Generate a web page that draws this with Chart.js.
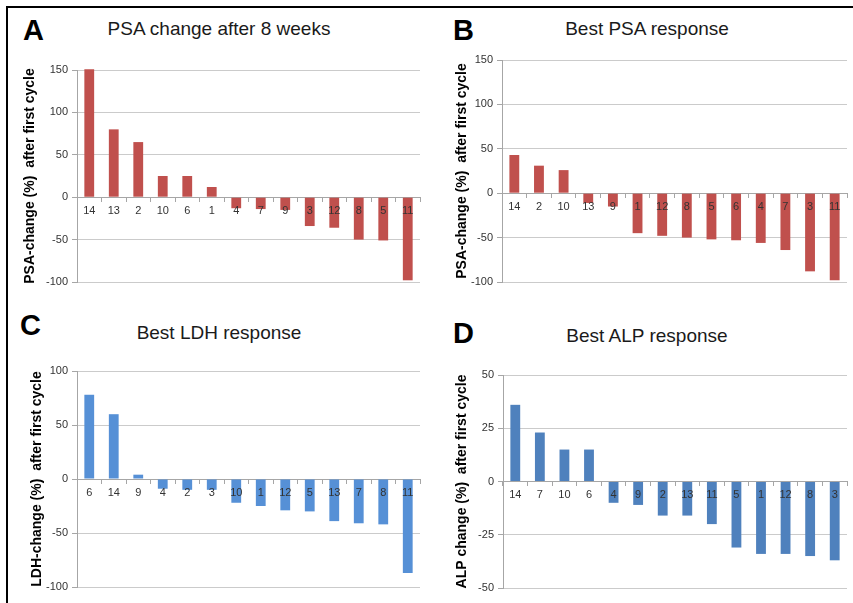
<!DOCTYPE html>
<html>
<head>
<meta charset="utf-8">
<script src="https://cdn.jsdelivr.net/npm/chart.js@4.4.0/dist/chart.umd.min.js"></script>
<style>
body { margin: 0; background: #fff; }
#fig { position: relative; width: 853px; height: 603px; overflow: hidden; font-family: "Liberation Sans", Arial, sans-serif; }
#frame { position: absolute; left: 6px; top: 6px; width: 900px; height: 700px; border-top: 2px solid #000; border-left: 2px solid #000; }
.letter { position: absolute; font-weight: bold; font-size: 29px; line-height: 29px; color: #000; }
.title { position: absolute; font-size: 19px; line-height: 19px; color: #1a1a1a; transform: translateX(-50%); white-space: nowrap; }
canvas { position: absolute; }
</style>
</head>
<body>
<div id="fig">
  <div id="frame"></div>
  <div class="letter" style="left:23px; top:16px;">A</div>
  <div class="letter" style="left:453px; top:16px;">B</div>
  <div class="letter" style="left:20px; top:311px;">C</div>
  <div class="letter" style="left:453px; top:319px;">D</div>
  <div class="title" style="left:219px; top:19px;">PSA change after 8 weeks</div>
  <div class="title" style="left:647px; top:19px;">Best PSA response</div>
  <div class="title" style="left:219px; top:323px;">Best LDH response</div>
  <div class="title" style="left:647px; top:326px;">Best ALP response</div>
  <canvas id="chartA" width="426" height="300" style="left:0; top:0;"></canvas>
  <canvas id="chartB" width="427" height="300" style="left:426px; top:0;"></canvas>
  <canvas id="chartC" width="426" height="303" style="left:0; top:300px;"></canvas>
  <canvas id="chartD" width="427" height="303" style="left:426px; top:300px;"></canvas>
</div>
<script>
// patient numbers (categories) and % change, one pair per panel
const patientsA = ['14', '13', '2', '10', '6', '1', '4', '7', '9', '3', '12', '8', '5', '11'];
const psaWeek8 = [151, 80, 65, 25, 25, 12, -13, -14, -15, -34, -36, -50, -51, -98];

const patientsB = ['14', '2', '10', '13', '9', '1', '12', '8', '5', '6', '4', '7', '3', '11'];
const psaBest = [43, 31, 26, -11, -15, -45, -48, -50, -52, -53, -56, -64, -88, -98];

const patientsC = ['6', '14', '9', '4', '2', '3', '10', '1', '12', '5', '13', '7', '8', '11'];
const ldhBest = [78, 60, 4, -9, -10, -10, -22, -25, -29, -30, -39, -41, -42, -87];

const patientsD = ['14', '7', '10', '6', '4', '9', '2', '13', '11', '5', '1', '12', '8', '3'];
const alpBest = [36, 23, 15, 15, -10, -11, -16, -16, -20, -31, -34, -34, -35, -37];

// y axis ticks
const ticksPsa = [-100, -50, 0, 50, 100, 150];
const ticksLdh = [-100, -50, 0, 50, 100];
const ticksAlp = [-50, -25, 0, 25, 50];

const red = '#C0504D';
const lightBlue = '#5690D6';
const blue = '#4F81BD';
const axisGrey = '#a6a6a6';
const gridGrey = '#cbcbcb';
const textGrey = '#333333';

function makeChart(id, labels, values, color, yTitle, ticks, box) {
  new Chart(document.getElementById(id), {
    type: 'bar',
    data: {
      labels: labels,
      datasets: [{
        data: values,
        backgroundColor: color,
        barPercentage: 0.4,
        categoryPercentage: 1.0,
        clip: 4
      }]
    },
    options: {
      responsive: false,
      animation: false,
      devicePixelRatio: 1,
      layout: { padding: { left: 0, top: box.top, right: box.right, bottom: box.bottom } },
      plugins: { legend: { display: false }, tooltip: { enabled: false } },
      scales: {
        x: {
          position: { y: 0 },
          grid: { drawOnChartArea: false, drawTicks: true, tickLength: 4, tickColor: axisGrey },
          border: { display: true, color: axisGrey },
          ticks: {
            z: 1, // numbers sit on top of the negative bars
            color: textGrey, padding: 3, maxRotation: 0, autoSkip: false,
            font: { family: '"Liberation Sans", Arial, sans-serif', size: 11 }
          }
        },
        y: {
          min: ticks[0],
          max: ticks[ticks.length - 1],
          afterFit: s => { s.width = box.left; },
          grid: { color: gridGrey, tickColor: axisGrey, tickLength: 5 },
          border: { display: true, color: axisGrey },
          ticks: {
            stepSize: ticks[1] - ticks[0],
            color: textGrey, padding: 4,
            font: { family: '"Liberation Sans", Arial, sans-serif', size: 11 }
          },
          title: {
            display: true,
            text: yTitle,
            color: '#000',
            padding: { top: box.titlePad, bottom: 0 },
            font: { family: '"Liberation Sans", Arial, sans-serif', size: 14, weight: 'bold' }
          }
        }
      }
    }
  });
}

makeChart('chartA', patientsA, psaWeek8, red, 'PSA-change (%)  after first cycle', ticksPsa,
  { left: 77, top: 70, right: 6, bottom: 18, titlePad: 22 });
makeChart('chartB', patientsB, psaBest, red, 'PSA-change (%)  after first cycle', ticksPsa,
  { left: 76, top: 60, right: 6, bottom: 18, titlePad: 28 });
makeChart('chartC', patientsC, ldhBest, lightBlue, 'LDH-change (%)  after first cycle', ticksLdh,
  { left: 77, top: 71, right: 6, bottom: 16, titlePad: 29 });
makeChart('chartD', patientsD, alpBest, blue, 'ALP change (%)  after first cycle', ticksAlp,
  { left: 77, top: 75, right: 6, bottom: 15, titlePad: 28 });
</script>
</body>
</html>
